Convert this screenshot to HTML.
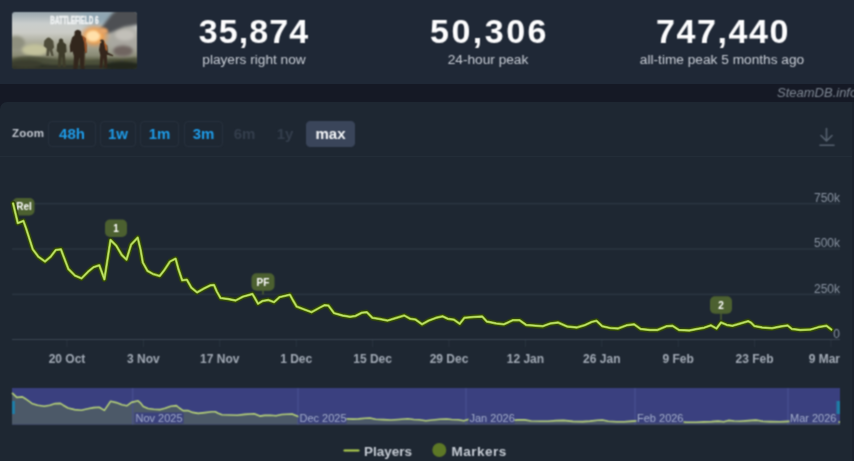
<!DOCTYPE html>
<html lang="en">
<head>
<meta charset="utf-8">
<title>SteamDB player chart</title>
<style>
html,body{margin:0;padding:0;}
body{width:854px;height:461px;overflow:hidden;background:#151925;font-family:"Liberation Sans",sans-serif;position:relative;}
.header{position:absolute;left:0;top:0;width:854px;height:84px;background:#1f2836;}
.thumb{position:absolute;left:12px;top:12px;width:125px;height:57px;border-radius:3px;overflow:hidden;}
.stat{position:absolute;top:0;text-align:center;color:#fff;white-space:nowrap;transform:translateX(-50%);}
.stat .num{position:absolute;left:0;top:10.5px;font-weight:bold;font-size:34px;line-height:40px;letter-spacing:0.6px;transform:translateX(-50%);color:#fdfdfe;}
.stat .lbl{position:absolute;left:0;top:51px;font-size:13.7px;line-height:18px;transform:translateX(-50%);color:#c9ced6;}
.wm{position:absolute;left:777px;top:85px;font-size:13px;line-height:16px;font-style:italic;color:#7f8894;white-space:nowrap;}
.panel{position:absolute;left:0;top:102px;width:852px;height:380px;background:#1e2732;border-radius:7px 0 0 0;}
.zoomlbl{position:absolute;left:12px;top:127px;font-size:11.5px;line-height:12px;color:#c4c9d1;font-weight:bold;letter-spacing:0.2px}
.zb{position:absolute;top:121px;height:24px;border:1px solid #28323e;border-radius:4px;color:#1e9be8;font-weight:bold;font-size:15px;line-height:24px;text-align:center;box-sizing:content-box;}
.zb.dis{border-color:transparent;color:#343e4c;}
.zb.act{background:#3a455a;border-color:#3a455a;color:#f4f6f8;}
svg{position:absolute;left:0;top:0;}
.soft{filter:url(#softf);}
svg text{font-family:"Liberation Sans",sans-serif;}
</style>
</head>
<body>
<svg width="0" height="0" style="position:absolute"><defs><filter id="softf" x="-5%" y="-5%" width="110%" height="110%" color-interpolation-filters="sRGB"><feConvolveMatrix order="3" kernelMatrix="1 2 1 2 5 2 1 2 1" divisor="17" edgeMode="duplicate" preserveAlpha="false"/></filter></defs></svg>
<div class="header">
  <div class="thumb soft">
    <svg width="125" height="57" viewBox="0 0 125 57">
      <defs>
        <linearGradient id="sky" x1="0" y1="0" x2="0" y2="1">
          <stop offset="0" stop-color="#98a5ad"/><stop offset="0.2" stop-color="#c9cdcc"/><stop offset="0.36" stop-color="#cbccc6"/><stop offset="0.55" stop-color="#a9a998"/><stop offset="0.76" stop-color="#8a8b76"/><stop offset="0.86" stop-color="#55583f"/><stop offset="1" stop-color="#34372c"/>
        </linearGradient>
        <radialGradient id="fire" cx="0.5" cy="0.5" r="0.5">
          <stop offset="0" stop-color="#ffd596"/><stop offset="0.5" stop-color="#f0a04e"/><stop offset="1" stop-color="#c98a55" stop-opacity="0"/>
        </radialGradient>
        <filter id="b3" x="-40%" y="-40%" width="180%" height="180%"><feGaussianBlur stdDeviation="3"/></filter>
        <filter id="b2" x="-40%" y="-40%" width="180%" height="180%"><feGaussianBlur stdDeviation="1.8"/></filter>
        <filter id="b1" x="-40%" y="-40%" width="180%" height="180%"><feGaussianBlur stdDeviation="0.9"/></filter>
        <filter id="b05" x="-30%" y="-30%" width="160%" height="160%"><feGaussianBlur stdDeviation="0.55"/></filter>
      </defs>
      <rect width="125" height="57" fill="url(#sky)"/>
      <!-- sky tint right -->
      <ellipse cx="86" cy="5" rx="20" ry="8" fill="#90a6b2" filter="url(#b3)"/>
      <!-- left haze + yellow mound -->
      <ellipse cx="4" cy="31" rx="9" ry="7" fill="#8f907f" filter="url(#b2)"/>
      <ellipse cx="23" cy="38" rx="13" ry="6" fill="#c3c29c" filter="url(#b2)"/>
      <!-- smoke right -->
      <ellipse cx="112" cy="28" rx="17" ry="15" fill="#a9a7a0" filter="url(#b3)"/>
      <path d="M84 22 L100 2 L106 -4 H130 V12 L112 15 L98 21 Z" fill="#4d5052" filter="url(#b2)"/>
      <ellipse cx="113" cy="23" rx="10" ry="5.5" fill="#c2c0b9" filter="url(#b2)"/>
      <ellipse cx="111" cy="39" rx="10" ry="5.5" fill="#6f6560" filter="url(#b2)"/>
      <!-- ground -->
      <path d="M0 47 Q14 42 34 46 T70 49 T125 46 V57 H0Z" fill="#4c4f3a" filter="url(#b1)"/>
      <path d="M0 52 Q20 50 40 53 H125 V57 H0Z" fill="#2e3128" filter="url(#b1)"/>
      <ellipse cx="110" cy="54" rx="18" ry="4.5" fill="#23261f" filter="url(#b1)"/>
      <ellipse cx="14" cy="52" rx="16" ry="4" fill="#3a3d2e" filter="url(#b1)"/>
      <!-- fire -->
      <ellipse cx="82.5" cy="24" rx="16" ry="12.5" fill="url(#fire)" filter="url(#b1)"/>
      <ellipse cx="81" cy="24" rx="7" ry="5.5" fill="#ffe0aa" filter="url(#b1)"/>
      <ellipse cx="91" cy="19" rx="5" ry="3" fill="#e8a668" filter="url(#b1)"/>
      <!-- soldiers -->
      <g filter="url(#b05)">
        <path d="M34.5 26.5 q2 -2.2 4.2 0 l2.6 2.6 l0.8 6.4 l-1.8 2 l1.4 6.6 h-2.2 l-1.8 -5.6 l-1 5.6 h-2.4 l0.4 -7.6 l-3 -2.4 l0.6 -5.4 Z" fill="#4f4e3a"/>
        <path d="M47 27.8 q2 -2.8 4 0 l0.4 2.4 l2.8 2.4 l0.4 7.4 l-1.8 1 l1 14 h-2.8 l-1 -10.5 l-1.4 10.5 h-2.8 l0.8 -14 l-2 -2 l0.6 -6.8 l1.6 -2 Z" fill="#3c3a29"/>
        <path d="M62.6 19.6 q3.2 -3.8 6.4 0 l0.3 3.6 l4.2 2.8 l1.5 9.4 l-0.4 5.4 l-1.8 0.6 l-0.5 5.6 l0.2 10 h-3.8 l-1.4 -11.5 l-2 11.5 h-4 l0.6 -12.6 l-1.2 -5 l-2.4 1 l-0.6 -6.4 l2.4 -8.4 l2.4 -2.4 Z" fill="#33271b"/>
        <path d="M70 23.6 l3.3 2.3 l1.5 9.3 l-0.4 5.4 l-1.2 0.4 l-0.9 -10 Z" fill="#a5592a"/>
        <path d="M72.2 39 h1 v15 h-1z" fill="#4a4030"/>
        <path d="M87.8 29 q2.2 -2.8 4.4 0 l0.3 2.6 l2.8 2 l0.6 7 l5.4 2.6 l-0.4 1.1 l-6 -1.5 l0.4 13.2 h-2.7 l-1 -10 l-1.4 10 h-2.7 l0.8 -13 l-1.3 -5 l1.1 -6.6 l1.8 -1.6 Z" fill="#35271a"/>
        <path d="M91.6 28.4 l3 4.6 l0.5 6 l-1.4 -1 l-1.2 -5 Z" fill="#b8642b"/>
      </g>
      <text x="38.3" y="11.7" font-size="10.2" font-weight="bold" fill="#eef1f2" stroke="#eef1f2" stroke-width="0.5" textLength="48.3" lengthAdjust="spacingAndGlyphs" filter="url(#b05)">BATTLEFIELD 6</text>
    </svg>
  </div>
  <div class="stat soft" style="left:254px"><div class="num" style="letter-spacing:1.1px">35,874</div><div class="lbl">players right now</div></div>
  <div class="stat soft" style="left:488px"><div class="num" style="letter-spacing:2.5px;margin-left:1.5px">50,306</div><div class="lbl">24-hour peak</div></div>
  <div class="stat soft" style="left:722px"><div class="num" style="letter-spacing:1.6px;margin-left:1px">747,440</div><div class="lbl">all-time peak 5 months ago</div></div>
</div>
<div class="wm soft">SteamDB.info</div>
<div style="position:absolute;left:852px;top:102px;width:2px;height:359px;background:#1a212d"></div>
<div class="panel"></div>
<div style="position:absolute;left:0;top:155.5px;width:852px;height:1px;background:#232d38"></div>
<div class="zoomlbl soft">Zoom</div>
<div class="zb soft" style="left:48px;width:46px;">48h</div>
<div class="zb soft" style="left:100px;width:34px;">1w</div>
<div class="zb soft" style="left:140px;width:37px;">1m</div>
<div class="zb soft" style="left:184px;width:37px;">3m</div>
<div class="zb dis soft" style="left:225px;width:37px;">6m</div>
<div class="zb dis soft" style="left:267px;width:34px;">1y</div>
<div class="zb act soft" style="left:306px;width:47px;">max</div>

<svg class="soft" width="854" height="461" viewBox="0 0 854 461">
  <!-- download icon -->
  <g stroke="#56616f" stroke-width="1.6" fill="none" stroke-linecap="round" stroke-linejoin="round">
    <path d="M826.5 128.5V140.5M821 135.5L826.5 141L832 135.5M820 145.2H834"/>
  </g>
  <!-- grid -->
  <g stroke="#323c48" stroke-width="1.1">
    <line x1="12" y1="203.7" x2="840" y2="203.7"/>
    <line x1="12" y1="249" x2="840" y2="249"/>
    <line x1="12" y1="294.2" x2="840" y2="294.2"/>
    <line x1="12" y1="339.5" x2="840" y2="339.5" stroke="#3a4552"/>
    <line x1="67.0" y1="340" x2="67.0" y2="347" stroke="#29333e"/><line x1="143.4" y1="340" x2="143.4" y2="347" stroke="#29333e"/><line x1="219.8" y1="340" x2="219.8" y2="347" stroke="#29333e"/><line x1="296.2" y1="340" x2="296.2" y2="347" stroke="#29333e"/><line x1="372.6" y1="340" x2="372.6" y2="347" stroke="#29333e"/><line x1="449.0" y1="340" x2="449.0" y2="347" stroke="#29333e"/><line x1="525.4" y1="340" x2="525.4" y2="347" stroke="#29333e"/><line x1="601.8" y1="340" x2="601.8" y2="347" stroke="#29333e"/><line x1="678.2" y1="340" x2="678.2" y2="347" stroke="#29333e"/><line x1="754.6" y1="340" x2="754.6" y2="347" stroke="#29333e"/><line x1="831.0" y1="340" x2="831.0" y2="347" stroke="#29333e"/>
  </g>
  <g font-size="12" fill="#8a94a2" text-anchor="end">
    <text x="840" y="202">750k</text>
    <text x="840" y="247.3">500k</text>
    <text x="840" y="292.5">250k</text>
    <text x="840" y="337.8">0</text>
  </g>
  <g font-size="12" fill="#a2aab5" font-weight="bold"><text x="67.0" y="363" text-anchor="middle">20 Oct</text><text x="143.4" y="363" text-anchor="middle">3 Nov</text><text x="219.8" y="363" text-anchor="middle">17 Nov</text><text x="296.2" y="363" text-anchor="middle">1 Dec</text><text x="372.6" y="363" text-anchor="middle">15 Dec</text><text x="449.0" y="363" text-anchor="middle">29 Dec</text><text x="525.4" y="363" text-anchor="middle">12 Jan</text><text x="601.8" y="363" text-anchor="middle">26 Jan</text><text x="678.2" y="363" text-anchor="middle">9 Feb</text><text x="754.6" y="363" text-anchor="middle">23 Feb</text><text x="840" y="363" text-anchor="end">9 Mar</text></g>
  <!-- markers -->
  <g font-size="10" font-weight="bold" fill="#ffffff" text-anchor="middle">
    <rect x="12.5" y="198" width="22" height="17.5" rx="5" fill="#4c6030"/>
    <text x="24" y="210.3">Rel</text>
    <rect x="105" y="219.5" width="22" height="17.5" rx="5" fill="#4c6030"/>
    <text x="116" y="231.8">1</text>
    <rect x="251.5" y="273.3" width="23" height="17.5" rx="5" fill="#4c6030"/>
    <path d="M262.3 290.5h1.4v4h-1.4z" fill="#4c6030"/>
    <text x="263" y="285.5">PF</text>
    <rect x="710" y="296.3" width="22" height="17.5" rx="5" fill="#4c6030"/>
    <path d="M720.3 313.5h1.4v7h-1.4z" fill="#4c6030"/>
    <text x="721" y="308.6">2</text>
  </g>
  <!-- series -->
  <!-- navigator -->
  <rect x="12" y="388" width="828" height="36.6" fill="#3a407f"/>
  <polygon points="12,424.6 12.0,392.8 16.8,397.4 22.4,396.9 25.3,398.7 31.9,403.4 37.6,405.2 44.3,406.3 49.9,405.2 55.2,403.6 60.4,403.4 63.2,405.2 68.0,408.0 74.6,409.6 81.2,410.2 87.8,408.7 93.6,407.6 99.2,407.2 104.4,410.4 110.6,401.3 116.3,402.6 122.0,404.8 126.8,405.8 131.4,402.4 138.1,400.8 140.9,403.4 143.3,406.5 148.0,408.5 153.6,409.2 160.4,409.6 165.1,408.3 170.8,406.3 176.4,405.6 179.3,408.0 183.1,410.6 187.8,410.5 192.5,412.4 198.2,413.4 204.9,412.6 211.6,411.8 215.3,411.7 218.1,413.2 222.0,414.8 229.5,415.0 237.2,415.3 244.7,414.4 254.2,413.8 256.1,414.5 259.8,416.1 264.6,415.4 270.3,415.2 276.0,415.7 281.7,414.5 292.1,414.0 295.1,415.2 298.9,416.7 306.4,417.4 314.0,418.0 322.6,417.0 327.3,416.4 331.1,416.5 336.7,418.3 345.3,418.8 352.9,419.1 358.6,418.9 365.1,418.2 369.9,418.0 375.6,419.3 383.3,419.6 390.8,420.0 398.5,419.5 407.9,418.8 413.7,419.5 419.2,419.8 425.8,420.8 432.5,420.0 440.0,419.3 446.7,419.0 451.6,419.5 458.2,419.8 463.9,420.7 468.7,419.3 478.1,419.1 486.7,419.0 491.4,420.2 500.9,420.6 508.5,420.8 517.9,419.9 524.6,419.9 531.2,421.0 540.8,421.2 548.2,421.3 555.8,420.6 563.4,420.4 572.9,421.4 582.5,421.6 590.0,421.1 597.6,420.3 602.4,420.0 608.2,421.3 616.7,421.7 624.1,421.8 632.7,421.1 640.3,420.8 647.0,421.9 656.5,422.2 664.0,422.2 673.5,421.3 679.2,421.2 685.9,422.2 696.3,422.3 703.9,421.9 711.5,421.6 718.1,421.1 723.8,421.8 728.4,420.4 734.2,421.0 739.9,421.2 748.6,420.6 755.8,420.1 758.7,420.5 762.3,421.3 770.1,421.6 780.0,421.8 788.6,421.4 795.8,421.1 800.0,421.9 808.6,422.2 818.6,422.1 827.1,421.5 835.0,421.2 840.0,422.1 840,424.6" fill="#4c5968"/>
  <g stroke="#4a5294" stroke-width="1">
    <line x1="132.8" y1="388" x2="132.8" y2="424.6"/>
    <line x1="298" y1="388" x2="298" y2="424.6"/>
    <line x1="466" y1="388" x2="466" y2="424.6"/>
    <line x1="635" y1="388" x2="635" y2="424.6"/>
    <line x1="788" y1="388" x2="788" y2="424.6"/>
  </g>
  <polyline points="12.0,392.8 16.8,397.4 22.4,396.9 25.3,398.7 31.9,403.4 37.6,405.2 44.3,406.3 49.9,405.2 55.2,403.6 60.4,403.4 63.2,405.2 68.0,408.0 74.6,409.6 81.2,410.2 87.8,408.7 93.6,407.6 99.2,407.2 104.4,410.4 110.6,401.3 116.3,402.6 122.0,404.8 126.8,405.8 131.4,402.4 138.1,400.8 140.9,403.4 143.3,406.5 148.0,408.5 153.6,409.2 160.4,409.6 165.1,408.3 170.8,406.3 176.4,405.6 179.3,408.0 183.1,410.6 187.8,410.5 192.5,412.4 198.2,413.4 204.9,412.6 211.6,411.8 215.3,411.7 218.1,413.2 222.0,414.8 229.5,415.0 237.2,415.3 244.7,414.4 254.2,413.8 256.1,414.5 259.8,416.1 264.6,415.4 270.3,415.2 276.0,415.7 281.7,414.5 292.1,414.0 295.1,415.2 298.9,416.7 306.4,417.4 314.0,418.0 322.6,417.0 327.3,416.4 331.1,416.5 336.7,418.3 345.3,418.8 352.9,419.1 358.6,418.9 365.1,418.2 369.9,418.0 375.6,419.3 383.3,419.6 390.8,420.0 398.5,419.5 407.9,418.8 413.7,419.5 419.2,419.8 425.8,420.8 432.5,420.0 440.0,419.3 446.7,419.0 451.6,419.5 458.2,419.8 463.9,420.7 468.7,419.3 478.1,419.1 486.7,419.0 491.4,420.2 500.9,420.6 508.5,420.8 517.9,419.9 524.6,419.9 531.2,421.0 540.8,421.2 548.2,421.3 555.8,420.6 563.4,420.4 572.9,421.4 582.5,421.6 590.0,421.1 597.6,420.3 602.4,420.0 608.2,421.3 616.7,421.7 624.1,421.8 632.7,421.1 640.3,420.8 647.0,421.9 656.5,422.2 664.0,422.2 673.5,421.3 679.2,421.2 685.9,422.2 696.3,422.3 703.9,421.9 711.5,421.6 718.1,421.1 723.8,421.8 728.4,420.4 734.2,421.0 739.9,421.2 748.6,420.6 755.8,420.1 758.7,420.5 762.3,421.3 770.1,421.6 780.0,421.8 788.6,421.4 795.8,421.1 800.0,421.9 808.6,422.2 818.6,422.1 827.1,421.5 835.0,421.2 840.0,422.1" fill="none" stroke="#b4cf78" stroke-width="1.6" stroke-linejoin="round"/>
  <g font-size="11" fill="#a3adcb">
    <rect x="134.5" y="412.5" width="49" height="11" fill="#3a417c"/>
    <text x="135.5" y="422">Nov 2025</text>
    <rect x="298.5" y="412.5" width="48" height="11" fill="#3a417c"/>
    <text x="299.5" y="422">Dec 2025</text>
    <rect x="468.5" y="412.5" width="46" height="11" fill="#3a417c"/>
    <text x="469.5" y="422">Jan 2026</text>
    <rect x="636.5" y="412.5" width="47" height="11" fill="#3a417c"/>
    <text x="637" y="422">Feb 2026</text>
    <rect x="789.5" y="412.5" width="49" height="11" fill="#3a417c"/>
    <text x="790" y="422">Mar 2026</text>
  </g>
  <rect x="12" y="401" width="3" height="13" fill="#1f7ca6"/>
  <rect x="836.5" y="401" width="3.5" height="13" fill="#1f7ca6"/>
  <!-- legend -->
  <line x1="344.5" y1="450.5" x2="358.5" y2="450.5" stroke="#b5d650" stroke-width="2.2" stroke-linecap="round"/>
  <text x="364" y="455.5" font-size="13.5" font-weight="bold" fill="#c6ccd4">Players</text>
  <circle cx="439.3" cy="450" r="7" fill="#5d7826"/>
  <text x="451.5" y="455.5" font-size="13.5" font-weight="bold" fill="#c6ccd4" letter-spacing="0.5">Markers</text>
</svg>
<svg width="854" height="461" viewBox="0 0 854 461">
  <polyline points="13.1,203.4 17.8,223.1 23.4,220.9 26.2,228.7 32.8,249.3 38.4,256.8 45.0,261.5 50.6,256.8 55.8,249.9 60.9,249.3 63.7,256.8 68.4,269.0 75.0,275.6 81.5,278.4 88.0,271.8 93.7,267.1 99.3,265.3 104.4,279.3 110.5,240.0 116.2,245.6 121.8,255.0 126.5,259.6 131.1,244.6 137.7,237.7 140.5,249.3 142.8,262.5 147.5,270.9 153.0,274.0 159.7,276.0 164.4,270.0 170.0,261.5 175.6,258.7 178.4,269.0 182.2,280.3 186.8,279.7 191.5,287.8 197.1,292.4 203.7,288.7 210.3,285.3 214.0,285.0 216.8,291.5 220.6,298.1 228.0,299.0 235.6,300.5 243.0,296.6 252.4,294.0 254.3,297.1 258.0,303.7 262.7,300.9 268.3,300.0 274.0,302.2 279.6,297.1 289.9,294.7 292.8,300.0 296.6,306.5 304.0,309.3 311.5,312.2 320.0,307.5 324.7,305.2 328.4,305.6 334.0,313.1 342.5,315.5 350.0,316.8 355.6,315.9 362.0,312.7 366.8,312.2 372.4,317.8 380.0,319.1 387.4,320.6 395.0,318.3 404.3,315.5 410.0,318.7 415.5,319.6 422.0,324.3 428.6,320.6 436.0,317.8 442.7,316.3 447.5,318.7 454.0,319.7 459.7,323.8 464.4,317.8 473.7,316.9 482.2,316.5 486.8,321.5 496.2,323.4 503.7,324.3 513.0,320.2 519.6,320.2 526.2,324.9 535.6,325.7 543.0,326.2 550.5,323.4 558.0,322.5 567.4,326.6 576.8,327.5 584.3,325.3 591.8,321.9 596.5,320.8 602.2,326.2 610.6,328.1 618.0,328.5 626.5,325.3 634.0,324.3 640.6,329.0 650.0,330.0 657.4,330.0 666.8,326.2 672.4,325.8 679.0,330.0 689.3,330.5 696.8,329.0 704.3,327.7 710.8,325.3 716.5,328.5 721.0,322.5 726.8,324.9 732.4,325.8 741.0,323.3 748.1,321.2 751.0,322.6 754.5,326.1 762.2,327.5 772.0,328.2 780.5,326.5 787.6,325.4 791.8,328.9 800.3,330.0 810.2,329.6 818.6,327.1 826.4,325.8 831.3,329.6" fill="none" stroke="#2f4309" stroke-opacity="0.95" stroke-width="5.4" stroke-linejoin="round" stroke-linecap="round"/>
  <polyline points="13.1,203.4 17.8,223.1 23.4,220.9 26.2,228.7 32.8,249.3 38.4,256.8 45.0,261.5 50.6,256.8 55.8,249.9 60.9,249.3 63.7,256.8 68.4,269.0 75.0,275.6 81.5,278.4 88.0,271.8 93.7,267.1 99.3,265.3 104.4,279.3 110.5,240.0 116.2,245.6 121.8,255.0 126.5,259.6 131.1,244.6 137.7,237.7 140.5,249.3 142.8,262.5 147.5,270.9 153.0,274.0 159.7,276.0 164.4,270.0 170.0,261.5 175.6,258.7 178.4,269.0 182.2,280.3 186.8,279.7 191.5,287.8 197.1,292.4 203.7,288.7 210.3,285.3 214.0,285.0 216.8,291.5 220.6,298.1 228.0,299.0 235.6,300.5 243.0,296.6 252.4,294.0 254.3,297.1 258.0,303.7 262.7,300.9 268.3,300.0 274.0,302.2 279.6,297.1 289.9,294.7 292.8,300.0 296.6,306.5 304.0,309.3 311.5,312.2 320.0,307.5 324.7,305.2 328.4,305.6 334.0,313.1 342.5,315.5 350.0,316.8 355.6,315.9 362.0,312.7 366.8,312.2 372.4,317.8 380.0,319.1 387.4,320.6 395.0,318.3 404.3,315.5 410.0,318.7 415.5,319.6 422.0,324.3 428.6,320.6 436.0,317.8 442.7,316.3 447.5,318.7 454.0,319.7 459.7,323.8 464.4,317.8 473.7,316.9 482.2,316.5 486.8,321.5 496.2,323.4 503.7,324.3 513.0,320.2 519.6,320.2 526.2,324.9 535.6,325.7 543.0,326.2 550.5,323.4 558.0,322.5 567.4,326.6 576.8,327.5 584.3,325.3 591.8,321.9 596.5,320.8 602.2,326.2 610.6,328.1 618.0,328.5 626.5,325.3 634.0,324.3 640.6,329.0 650.0,330.0 657.4,330.0 666.8,326.2 672.4,325.8 679.0,330.0 689.3,330.5 696.8,329.0 704.3,327.7 710.8,325.3 716.5,328.5 721.0,322.5 726.8,324.9 732.4,325.8 741.0,323.3 748.1,321.2 751.0,322.6 754.5,326.1 762.2,327.5 772.0,328.2 780.5,326.5 787.6,325.4 791.8,328.9 800.3,330.0 810.2,329.6 818.6,327.1 826.4,325.8 831.3,329.6" fill="none" stroke="#8db426" stroke-width="2.5" stroke-linejoin="round" stroke-linecap="round"/>
  <polyline points="13.1,203.4 17.8,223.1 23.4,220.9 26.2,228.7 32.8,249.3 38.4,256.8 45.0,261.5 50.6,256.8 55.8,249.9 60.9,249.3 63.7,256.8 68.4,269.0 75.0,275.6 81.5,278.4 88.0,271.8 93.7,267.1 99.3,265.3 104.4,279.3 110.5,240.0 116.2,245.6 121.8,255.0 126.5,259.6 131.1,244.6 137.7,237.7 140.5,249.3 142.8,262.5 147.5,270.9 153.0,274.0 159.7,276.0 164.4,270.0 170.0,261.5 175.6,258.7 178.4,269.0 182.2,280.3 186.8,279.7 191.5,287.8 197.1,292.4 203.7,288.7 210.3,285.3 214.0,285.0 216.8,291.5 220.6,298.1 228.0,299.0 235.6,300.5 243.0,296.6 252.4,294.0 254.3,297.1 258.0,303.7 262.7,300.9 268.3,300.0 274.0,302.2 279.6,297.1 289.9,294.7 292.8,300.0 296.6,306.5 304.0,309.3 311.5,312.2 320.0,307.5 324.7,305.2 328.4,305.6 334.0,313.1 342.5,315.5 350.0,316.8 355.6,315.9 362.0,312.7 366.8,312.2 372.4,317.8 380.0,319.1 387.4,320.6 395.0,318.3 404.3,315.5 410.0,318.7 415.5,319.6 422.0,324.3 428.6,320.6 436.0,317.8 442.7,316.3 447.5,318.7 454.0,319.7 459.7,323.8 464.4,317.8 473.7,316.9 482.2,316.5 486.8,321.5 496.2,323.4 503.7,324.3 513.0,320.2 519.6,320.2 526.2,324.9 535.6,325.7 543.0,326.2 550.5,323.4 558.0,322.5 567.4,326.6 576.8,327.5 584.3,325.3 591.8,321.9 596.5,320.8 602.2,326.2 610.6,328.1 618.0,328.5 626.5,325.3 634.0,324.3 640.6,329.0 650.0,330.0 657.4,330.0 666.8,326.2 672.4,325.8 679.0,330.0 689.3,330.5 696.8,329.0 704.3,327.7 710.8,325.3 716.5,328.5 721.0,322.5 726.8,324.9 732.4,325.8 741.0,323.3 748.1,321.2 751.0,322.6 754.5,326.1 762.2,327.5 772.0,328.2 780.5,326.5 787.6,325.4 791.8,328.9 800.3,330.0 810.2,329.6 818.6,327.1 826.4,325.8 831.3,329.6" fill="none" stroke="#bee172" stroke-width="1.3" stroke-linejoin="round" stroke-linecap="round"/>
</svg>
</body>
</html>
